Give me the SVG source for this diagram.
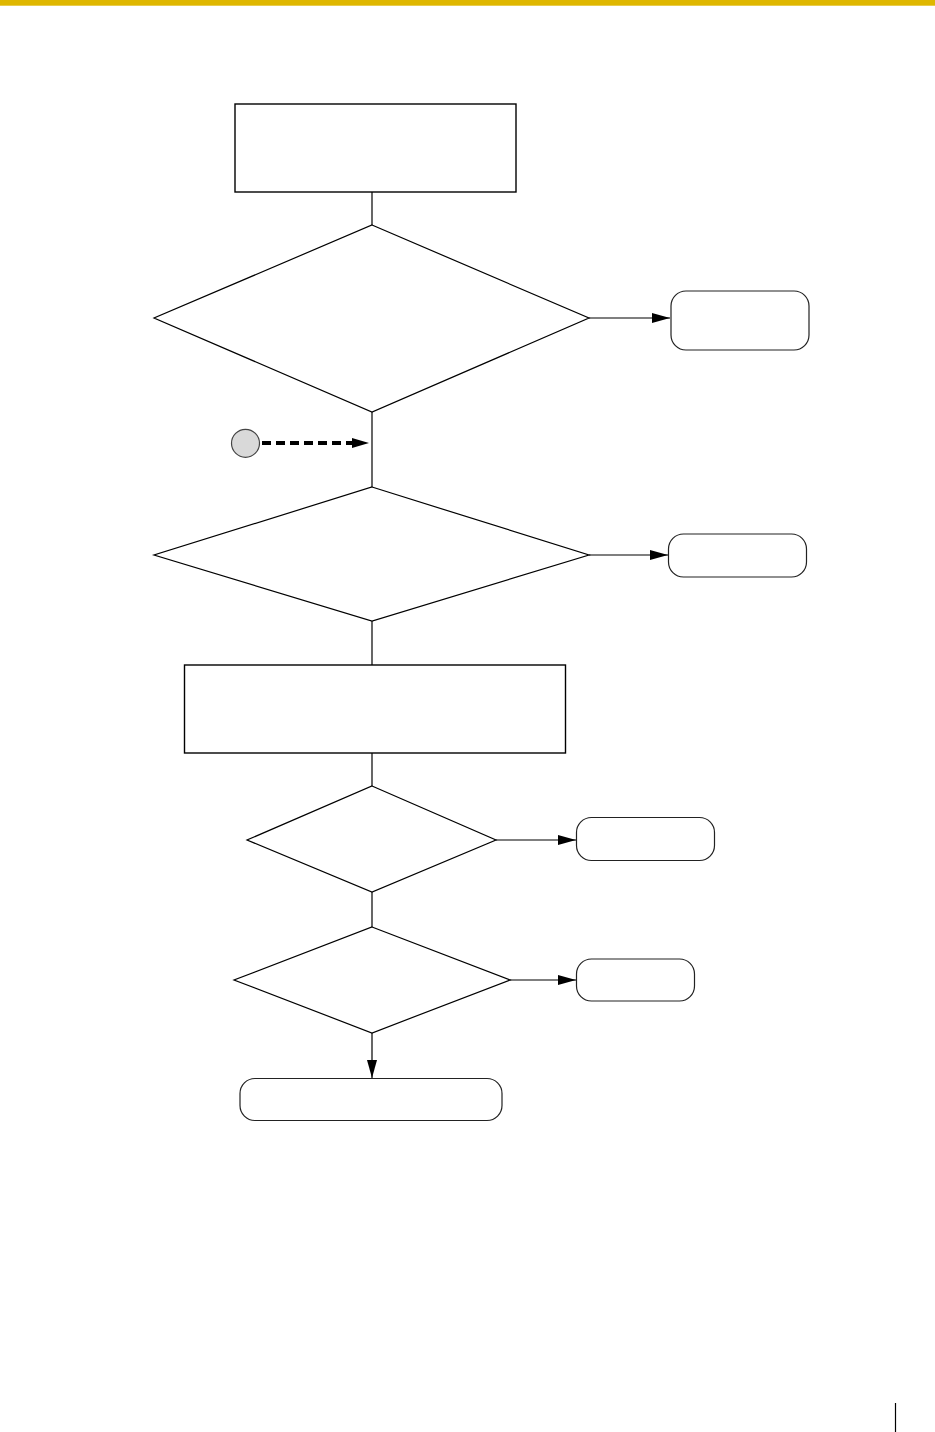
<svg xmlns="http://www.w3.org/2000/svg" width="935" height="1432" viewBox="0 0 935 1432">
<style>
.box{fill:#fff;stroke:#000;stroke-width:1.4}
.term{fill:#fff;stroke:#222;stroke-width:1.2}
.dia{fill:#fff;stroke:#000;stroke-width:1.2}
.ln{fill:none;stroke:#000;stroke-width:1.2}
.dash{fill:none;stroke:#000;stroke-width:4;stroke-dasharray:9,5}
</style>
<defs>
<marker id="ah" viewBox="0 0 18 10" refX="18" refY="5" markerWidth="18" markerHeight="10" markerUnits="userSpaceOnUse" orient="auto">
<path d="M0,0 L18,5 L0,10 Z" fill="#000"/>
</marker>
</defs>
<rect x="0" y="0" width="935" height="5.7" fill="#dfb700"/>
<g id="connectors">
<line class="ln" x1="372" y1="192" x2="372" y2="225"/>
<line class="ln" x1="589" y1="318" x2="670" y2="318" marker-end="url(#ah)"/>
<line class="ln" x1="372" y1="412" x2="372" y2="487"/>
<line class="dash" x1="262" y1="443" x2="353" y2="443"/>
<path d="M352,438 L369,443 L352,448 Z" fill="#000"/>
<line class="ln" x1="589" y1="555" x2="668" y2="555" marker-end="url(#ah)"/>
<line class="ln" x1="372" y1="621" x2="372" y2="665"/>
<line class="ln" x1="372" y1="753" x2="372" y2="786"/>
<line class="ln" x1="496" y1="840" x2="576" y2="840" marker-end="url(#ah)"/>
<line class="ln" x1="372" y1="892" x2="372" y2="927"/>
<line class="ln" x1="510" y1="980" x2="576" y2="980" marker-end="url(#ah)"/>
<line class="ln" x1="372" y1="1033" x2="372" y2="1078" marker-end="url(#ah)"/>
</g>
<g id="n1"><rect class="box" x="235" y="104" width="281" height="88"/></g>
<g id="d1"><polygon class="dia" points="372,225 589,318 372,412 154,318"/></g>
<g id="t1"><rect class="term" x="671" y="291" width="138" height="59" rx="15"/></g>
<g id="c1"><circle cx="245.5" cy="443.3" r="14" fill="#d9d9d9" stroke="#444" stroke-width="1.2"/></g>
<g id="d2"><polygon class="dia" points="372,487 589,555 372,621 154,555"/></g>
<g id="t2"><rect class="term" x="668.5" y="534" width="138" height="43" rx="15"/></g>
<g id="n2"><rect class="box" x="184.5" y="665" width="381" height="88"/></g>
<g id="d3"><polygon class="dia" points="372,786 496,840 372,892 247,840"/></g>
<g id="t3"><rect class="term" x="576.5" y="817.5" width="138" height="43" rx="15"/></g>
<g id="d4"><polygon class="dia" points="372,927 510,980 372,1033 234,980"/></g>
<g id="t4"><rect class="term" x="576.5" y="959" width="118" height="42" rx="15"/></g>
<g id="t5"><rect class="term" x="240" y="1078.5" width="262" height="42" rx="15"/></g>
<line x1="895.5" y1="1403" x2="895.5" y2="1432" stroke="#000" stroke-width="1.2"/>
</svg>
